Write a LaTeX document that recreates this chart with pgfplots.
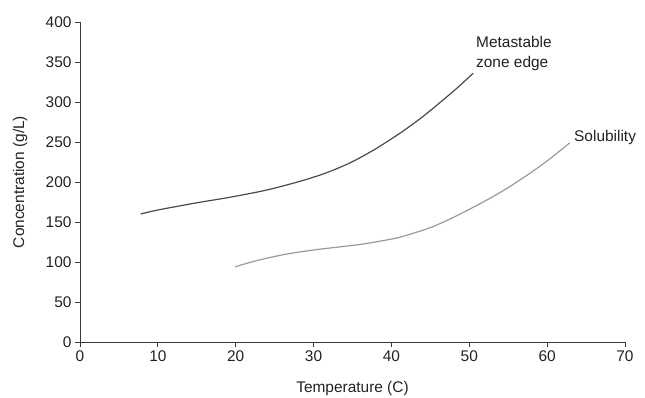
\documentclass[border=0pt]{standalone}
\usepackage{fontspec}
\setmainfont{Liberation Sans}
\usepackage{pgfplots}
\pgfplotsset{compat=1.18}
\definecolor{axisgray}{HTML}{3A3A3A}
\definecolor{metagray}{HTML}{4A4A4A}
\definecolor{solgray}{HTML}{9A9A9A}
\definecolor{txt}{HTML}{222222}
\begin{document}
\begin{tikzpicture}[x=1bp,y=1bp]
\path[use as bounding box] (-80bp,-56bp) rectangle (565bp,342bp);
\begin{axis}[
  at={(0,0)}, anchor=south west,
  scale only axis,
  width=545bp, height=320bp,
  xmin=0, xmax=70, ymin=0, ymax=400,
  axis x line=bottom, axis y line=left,
  axis line style={axisgray, line width=0.9bp, -},
  xtick={0,10,...,70}, ytick={0,50,...,400},
  tick align=outside,
  major tick length=5bp,
  tick style={axisgray, line width=0.9bp},
  tick label style={font=\fontsize{15.5}{17}\selectfont, text=txt},
  /pgf/number format/assume math mode=true,
  xlabel={Temperature (C)},
  ylabel={Concentration (g/L)},
  xlabel style={at={(axis description cs:0.5,-0.144)}, anchor=center, font=\fontsize{15.5}{17}\selectfont, text=txt},
  ylabel style={at={(axis description cs:-0.110,0.5)}, anchor=center, rotate=0, font=\fontsize{15.5}{17}\selectfont, text=txt},
  clip=false,
]
\addplot[metagray, line width=1.2bp, smooth] coordinates {
 (7.8,160) (10,165) (15,174) (19.3,181) (24,190) (28.3,201) (31.5,211)
 (34.7,224) (37.9,241) (41.1,261) (43.8,280) (46.2,299) (48.5,318) (50.5,336)
};
\addplot[solgray, line width=1.2bp, smooth] coordinates {
 (19.9,94) (23,102.5) (26.6,110) (30,115) (33,118.5) (36,122) (38.5,126)
 (41.1,131) (45,143) (48,156) (51.4,173) (54.5,190) (57.8,211) (60.5,230) (62.9,249)
};
\node[anchor=west, align=left, font=\fontsize{15.5}{20}\selectfont, text=txt, inner sep=0pt] at (axis cs:50.86,361) {Metastable\\zone edge};
\node[anchor=west, font=\fontsize{15.5}{17}\selectfont, text=txt, inner sep=0pt] at (axis cs:63.45,256) {Solubility};
\end{axis}
\end{tikzpicture}
\end{document}
